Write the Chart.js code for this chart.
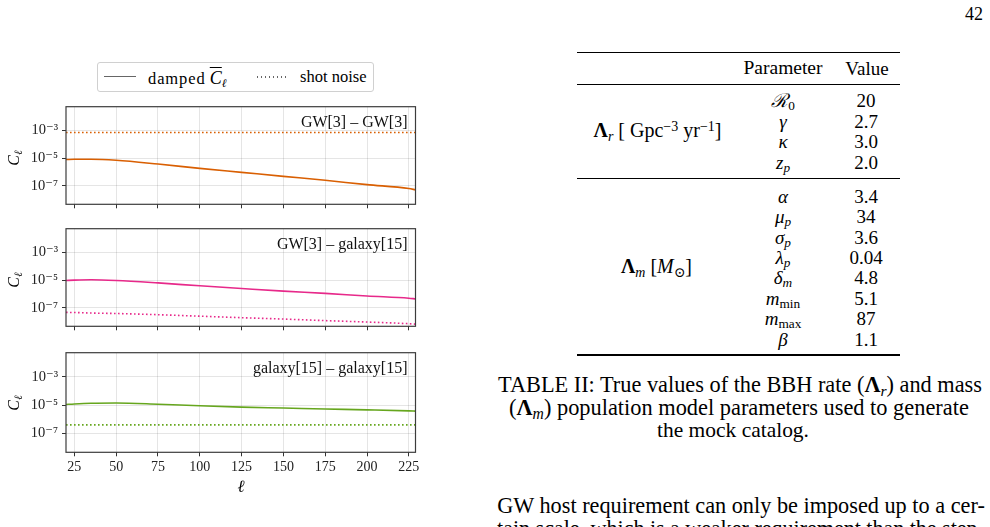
<!DOCTYPE html>
<html>
<head>
<meta charset="utf-8">
<title>Angular power spectra and Table II</title>
<script src="https://cdn.jsdelivr.net/npm/chart.js@4.4.1/dist/chart.umd.min.js"></script>
<style>
html,body{margin:0;padding:0;background:#fff;}
body{width:990px;height:527px;position:relative;overflow:hidden;font-family:"Liberation Serif","DejaVu Serif",serif;color:#000;}
.t{position:absolute;white-space:nowrap;line-height:1;}
.c{transform:translate(-50%,-50%);}
sub{font-size:0.7em;vertical-align:-0.25em;line-height:0;}
sup{font-size:0.7em;vertical-align:0.45em;line-height:0;}
.rule{position:absolute;left:577px;width:323px;background:#000;}
.panel{position:absolute;left:0;}
.legend{position:absolute;left:97px;top:62px;width:275px;height:28px;border:1px solid #d0d0d0;border-radius:3px;background:#fff;}
.ylab{position:absolute;white-space:nowrap;line-height:1;font-size:16px;transform:translate(-50%,-50%) rotate(-90deg);}
</style>
</head>
<body>
<div class="t" style="left:965px;top:5px;font-size:18px;">42</div>

<div class="legend">
  <div style="position:absolute;left:6px;top:13px;width:32px;height:0;border-top:1.3px solid #666;"></div>
  <div class="t" style="left:50px;top:6px;font-size:16.5px;"><span style="letter-spacing:0.9px;">damped</span> <i><span style="text-decoration:overline;font-size:18px;">C</span></i><sub><i>ℓ</i></sub></div>
  <div style="position:absolute;left:159px;top:13px;width:31px;height:1.5px;background-image:repeating-linear-gradient(to right,#666 0 1.5px,transparent 1.5px 4px);"></div>
  <div class="t" style="left:202px;top:6px;font-size:16.5px;">shot noise</div>
</div>

<div id="panels"></div>
<div class="ylab" style="left:14px;top:158px;"><i>C</i><sub><i>ℓ</i></sub></div>
<div class="ylab" style="left:14px;top:280px;"><i>C</i><sub><i>ℓ</i></sub></div>
<div class="ylab" style="left:14px;top:403px;"><i>C</i><sub><i>ℓ</i></sub></div>
<div class="t c" style="left:241px;top:486px;font-size:17px;"><i>ℓ</i></div>

<div id="table"></div>

<div class="t fit" data-cx="740" data-cy="386" data-w="484">TABLE II: True values of the BBH rate (<b>Λ</b><sub><i>r</i></sub>) and mass</div>
<div class="t fit" data-cx="739" data-cy="409" data-w="460">(<b>Λ</b><sub><i>m</i></sub>) population model parameters used to generate</div>
<div class="t fit" data-cx="733" data-cy="432" data-w="152">the mock catalog.</div>
<div class="t fit" data-cx="741" data-cy="507" data-w="488">GW host requirement can only be imposed up to a cer-</div>
<div class="t fit" data-cx="741" data-cy="530" data-w="488">tain scale, which is a weaker requirement than the step-</div>

<script>
// ---------- data ----------
const ell = [20, 25, 35, 50, 75, 100, 125, 150, 175, 200, 225, 229];

const gwGwDamped   = [7.8e-6, 8.1e-6, 8.1e-6, 6.9e-6, 3.7e-6, 1.8e-6, 9.3e-7, 4.8e-7, 2.5e-7, 1.22e-7, 6.4e-8, 5.1e-8];
const gwGwShot     = [6.9e-4, 6.9e-4, 6.9e-4, 6.9e-4, 6.9e-4, 6.9e-4, 6.9e-4, 6.9e-4, 6.9e-4, 6.9e-4, 6.9e-4, 6.9e-4];

const gwGalDamped  = [9.3e-6, 9.9e-6, 1.05e-5, 9.3e-6, 6.2e-6, 3.85e-6, 2.45e-6, 1.58e-6, 1.1e-6, 7.1e-7, 4.9e-7, 4.4e-7];
const gwGalShot    = [4.7e-8, 4.6e-8, 4.2e-8, 3.9e-8, 3.2e-8, 2.5e-8, 1.95e-8, 1.55e-8, 1.2e-8, 9.5e-9, 7.2e-9, 6.7e-9];

const galGalDamped = [1.1e-5, 1.2e-5, 1.35e-5, 1.4e-5, 1.15e-5, 8.9e-6, 7.2e-6, 6.2e-6, 5.3e-6, 4.6e-6, 3.9e-6, 3.75e-6];
const galGalShot   = [4.0e-7, 4.0e-7, 4.0e-7, 4.0e-7, 4.0e-7, 4.0e-7, 4.0e-7, 4.0e-7, 4.0e-7, 4.0e-7, 4.0e-7, 4.0e-7];

const panelTitles  = ['GW[3] \u2013 GW[3]', 'GW[3] \u2013 galaxy[15]', 'galaxy[15] \u2013 galaxy[15]'];
const xTickValues  = [25, 50, 75, 100, 125, 150, 175, 200, 225];
const xTickLabels  = ['25', '50', '75', '100', '125', '150', '175', '200', '225'];
const yTickValues  = [1e-7, 1e-5, 1e-3];
const yTickLabels  = ['10\u207B\u2077', '10\u207B\u2075', '10\u207B\u00B3'];

const rateSymbols  = ['<i>ℛ</i><sub>0</sub>', '<i>γ</i>', '<i>κ</i>', '<i>z</i><sub><i>p</i></sub>'];
const rateValues   = ['20', '2.7', '3.0', '2.0'];
const massSymbols  = ['<i>α</i>', '<i>μ</i><sub><i>p</i></sub>', '<i>σ</i><sub><i>p</i></sub>', '<i>λ</i><sub><i>p</i></sub>',
                      '<i>δ</i><sub><i>m</i></sub>', '<i>m</i><sub>min</sub>', '<i>m</i><sub>max</sub>', '<i>β</i>'];
const massValues   = ['3.4', '34', '3.6', '0.04', '4.8', '5.1', '87', '1.1'];

// ---------- figure ----------
const framePlugin = {
  id: 'frame',
  afterDatasetsDraw(chart, args, opts) {
    const {ctx, chartArea: a} = chart;
    ctx.save();
    ctx.strokeStyle = '#3c3c3c';
    ctx.lineWidth = 1.2;
    ctx.strokeRect(a.left, a.top, a.right - a.left, a.bottom - a.top);
    ctx.font = '16px "Liberation Serif", serif';
    ctx.fillStyle = '#111';
    ctx.textAlign = 'right';
    ctx.textBaseline = 'middle';
    ctx.fillText(opts.title || '', a.right - 8, a.top + 16);
    ctx.restore();
  }
};

const panels = [
  {damped: gwGwDamped,   shot: gwGwShot,   color: '#d95f02', top: 104.3, bottom: 206.7, labels: false},
  {damped: gwGalDamped,  shot: gwGalShot,  color: '#e7298a', top: 226.7, bottom: 329.0, labels: false},
  {damped: galGalDamped, shot: galGalShot, color: '#66a61e', top: 350.0, bottom: 452.3, labels: true}
];

const holder = document.getElementById('panels');
panels.forEach((p, i) => {
  const axisH = p.labels ? 26 : 6;
  const cTop = Math.floor(p.top) - 10;
  const H = Math.ceil(p.bottom) + axisH + 4 - cTop;
  const W = 440;
  const div = document.createElement('div');
  div.className = 'panel';
  div.style.top = cTop + 'px';
  div.style.width = W + 'px';
  div.style.height = H + 'px';
  const cv = document.createElement('canvas');
  cv.width = W; cv.height = H;
  cv.style.width = W + 'px'; cv.style.height = H + 'px';
  div.appendChild(cv);
  holder.appendChild(div);

  const padTop = p.top - cTop;
  const padBottom = H - axisH - (p.bottom - cTop);

  new Chart(cv, {
    type: 'line',
    data: {
      datasets: [
        {label: 'damped C\u0304\u2113', data: ell.map((x, k) => ({x: x, y: p.damped[k]})),
         borderColor: p.color, borderWidth: 1.6, pointRadius: 0, cubicInterpolationMode: 'monotone', fill: false},
        {label: 'shot noise', data: ell.map((x, k) => ({x: x, y: p.shot[k]})),
         borderColor: p.color, borderWidth: 1.6, borderDash: [1.6, 2.4], borderCapStyle: 'butt',
         pointRadius: 0, cubicInterpolationMode: 'monotone', fill: false}
      ]
    },
    options: {
      responsive: false, animation: false, devicePixelRatio: 1, events: [],
      layout: {padding: {top: padTop, left: 0, right: 24.5, bottom: padBottom}},
      plugins: {legend: {display: false}, tooltip: {enabled: false}, frame: {title: panelTitles[i]}},
      scales: {
        x: {
          type: 'linear', min: 20, max: 229,
          afterBuildTicks: s => { s.ticks = xTickValues.map(v => ({value: v})); },
          afterFit: s => { s.height = axisH; },
          border: {display: false},
          grid: {color: 'rgba(0,0,0,0.1)', lineWidth: 1, drawTicks: true, tickLength: 4, tickColor: '#333', tickWidth: 1},
          ticks: {display: p.labels, autoSkip: false, maxRotation: 0, padding: 3, color: '#222',
                  font: {family: '"Liberation Serif", "DejaVu Serif", serif', size: 14},
                  callback: v => xTickLabels[xTickValues.indexOf(v)]}
        },
        y: {
          type: 'logarithmic', min: Math.pow(10, -8.33), max: Math.pow(10, -1.305),
          afterBuildTicks: s => { s.ticks = yTickValues.map(v => ({value: v})); },
          afterFit: s => { s.width = 66; },
          border: {display: false},
          grid: {color: 'rgba(0,0,0,0.1)', lineWidth: 1, drawTicks: true, tickLength: 4, tickColor: '#333', tickWidth: 1},
          ticks: {padding: 4, color: '#222',
                  font: {family: '"Liberation Serif", "DejaVu Serif", serif', size: 14.5},
                  callback: v => {
                    const k = yTickValues.findIndex(t => Math.abs(Math.log10(t) - Math.log10(v)) < 1e-6);
                    return k >= 0 ? yTickLabels[k] : '';
                  }}
        }
      }
    },
    plugins: [framePlugin]
  });
});

// ---------- table ----------
const tb = document.getElementById('table');
function rule(y, h) {
  const d = document.createElement('div');
  d.className = 'rule'; d.style.top = y + 'px'; d.style.height = h + 'px';
  tb.appendChild(d);
}
function cell(html, cx, cy, fs) {
  const d = document.createElement('div');
  d.className = 't c';
  d.style.left = cx + 'px'; d.style.top = cy + 'px'; d.style.fontSize = (fs || 19) + 'px';
  d.innerHTML = html;
  tb.appendChild(d);
  return d;
}
rule(51.5, 1.6);
rule(84, 1);
rule(178, 1);
rule(354, 1.6);
cell('Parameter', 783, 68, 19.5);
cell('Value', 867, 68);
rateSymbols.forEach((s, k) => { cell(s, 783, 100 + 20.55 * k); cell(rateValues[k], 866, 100 + 20.55 * k); });
massSymbols.forEach((s, k) => { cell(s, 783, 195.8 + 20.4 * k); cell(massValues[k], 866, 195.8 + 20.4 * k); });
const l1 = cell('<b>Λ</b><sub><i>r</i></sub> [ Gpc<sup>−3</sup> yr<sup>−1</sup>]', 657.5, 130);
l1.classList.add('fitc'); l1.dataset.w = 137;
const l2 = cell('<b>Λ</b><sub><i>m</i></sub> [<i>M</i><sub>⊙</sub>]', 656.5, 267);
l2.classList.add('fitc'); l2.dataset.w = 71;

// ---------- text fitting ----------
function fitAll() {
  document.querySelectorAll('.fit').forEach(el => {
    let fs = 18;
    el.style.fontSize = fs + 'px';
    const w = el.getBoundingClientRect().width;
    fs = fs * (+el.dataset.w) / w;
    el.style.fontSize = fs + 'px';
    const w2 = el.getBoundingClientRect().width;
    el.style.left = (+el.dataset.cx - w2 / 2) + 'px';
    el.style.top = (+el.dataset.cy - 0.55 * fs) + 'px';
  });
  document.querySelectorAll('.fitc').forEach(el => {
    let fs = 19;
    const w = el.getBoundingClientRect().width;
    el.style.fontSize = Math.min(20, fs * (+el.dataset.w) / w) + 'px';
  });
}
fitAll();
</script>
</body>
</html>
